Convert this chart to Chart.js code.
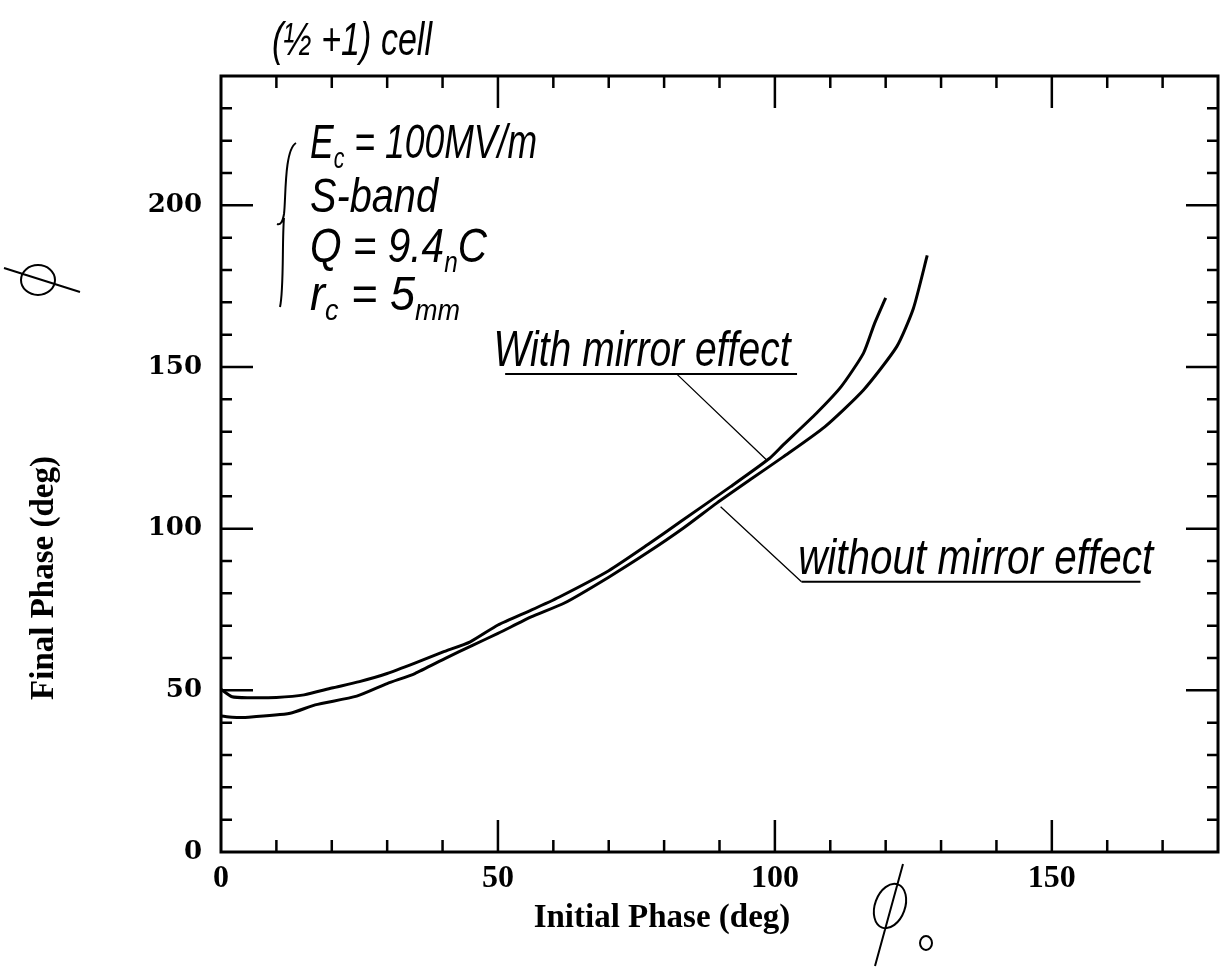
<!DOCTYPE html>
<html>
<head>
<meta charset="utf-8">
<script src="https://cdn.jsdelivr.net/npm/chart.js@4"></script>
<style>
  body { margin: 0; background: #fff; }
  #wrap { width: 1228px; height: 971px; }
</style>
</head>
<body>
<div id="wrap"><canvas id="phase"></canvas></div>
<script>
// values
const xTicks = [0, 50, 100, 150]
const yTicks = [0, 50, 100, 150, 200]

const withMirrorX = [0, 2, 5, 10, 15, 20, 25, 30, 35, 40, 45, 50, 56, 61, 70, 77, 83, 92, 99, 101.5, 107.5, 112, 116, 118, 120]
const withMirrorY = [50.3, 48, 47.7, 47.8, 48.6, 50.7, 52.7, 55.2, 58.4, 61.8, 65, 70.2, 74.8, 78.8, 87, 95, 102.2, 113, 121.7, 125.9, 135.7, 144, 154.3, 163.5, 171.4]

const withoutMirrorX = [0, 2, 5, 12.5, 17, 24.5, 30, 35, 40.5, 45.5, 50, 56, 62, 70, 77, 83.5, 89.5, 95.5, 101.5, 109, 116, 122, 125, 127.5]
const withoutMirrorY = [42.1, 41.7, 41.7, 42.9, 45.5, 48.2, 52.1, 55.2, 59.9, 64, 67.6, 72.7, 77, 85, 92.6, 100.2, 107.9, 115.1, 122.2, 131.5, 142.9, 156.3, 168.1, 184.5]

const pts = (xs, ys) => xs.map((x, i) => ({ x: x, y: ys[i] }))

const handFace = '"Liberation Sans", "DejaVu Sans", sans-serif'
const serif = '"Liberation Serif", "DejaVu Serif", serif'

// handwritten-looking text squeezed to a given width; parts are [text, isSub]
function hand(ctx, x, y, parts, size, width) {
    const fontOf = sub => 'italic ' + (sub ? size * 0.6 : size) + 'px ' + handFace
    let natural = 0
    parts.forEach(p => { ctx.font = fontOf(p[1]); natural += ctx.measureText(p[0]).width })
    ctx.save()
    ctx.translate(x, y)
    ctx.scale(width / natural, 1)
    let cx = 0
    parts.forEach(p => {
        ctx.font = fontOf(p[1])
        ctx.fillText(p[0], cx, p[1] ? size * 0.2 : 0)
        cx += ctx.measureText(p[0]).width
    })
    ctx.restore()
}

function phi(ctx, cx, cy, rx, ry, rot, x1, y1, x2, y2) {
    ctx.beginPath()
    ctx.ellipse(cx, cy, rx, ry, rot, 0, Math.PI * 2)
    ctx.moveTo(x1, y1)
    ctx.lineTo(x2, y2)
    ctx.stroke()
}

const decor = {
    id: 'decor',
    afterDraw(chart) {
        const ctx = chart.ctx
        const a = chart.chartArea
        const sx = chart.scales.x, sy = chart.scales.y
        const X = v => sx.getPixelForValue(v), Y = v => sy.getPixelForValue(v)
        ctx.save()
        ctx.strokeStyle = '#000'
        ctx.fillStyle = '#000'

        // frame
        ctx.lineWidth = 3
        ctx.strokeRect(a.left, a.top, a.right - a.left, a.bottom - a.top)

        // inward ticks on all four sides
        ctx.lineWidth = 2.5
        ctx.beginPath()
        for (let v = 10; v < 180; v += 10) {
            const len = v % 50 === 0 ? 32 : 12
            ctx.moveTo(X(v), a.bottom); ctx.lineTo(X(v), a.bottom - len)
            ctx.moveTo(X(v), a.top); ctx.lineTo(X(v), a.top + len)
        }
        for (let v = 10; v < 240; v += 10) {
            const len = v % 50 === 0 ? 32 : 11
            ctx.moveTo(a.left, Y(v)); ctx.lineTo(a.left + len, Y(v))
            ctx.moveTo(a.right, Y(v)); ctx.lineTo(a.right - len, Y(v))
        }
        ctx.stroke()

        // axis titles
        ctx.font = 'bold 33px ' + serif
        ctx.textAlign = 'center'
        ctx.textBaseline = 'middle'
        ctx.fillText('Initial Phase (deg)', 662, 918)
        ctx.save()
        ctx.translate(44, 578)
        ctx.rotate(-Math.PI / 2)
        ctx.fillText('Final Phase (deg)', 0, 0)
        ctx.restore()

        // handwritten notes
        ctx.textAlign = 'left'
        ctx.textBaseline = 'alphabetic'
        hand(ctx, 272, 55, [['(\u00bd +1) cell', 0]], 46, 160)

        hand(ctx, 310, 158, [['E', 0], ['c', 1], [' = 100MV/m', 0]], 48, 227)
        hand(ctx, 310, 212, [['S-band', 0]], 48, 128)
        hand(ctx, 310, 262, [['Q = 9.4', 0], ['n', 1], ['C', 0]], 48, 177)
        hand(ctx, 310, 310, [['r', 0], ['c', 1], [' = 5', 0], ['mm', 1]], 48, 150)

        // brace
        ctx.lineWidth = 2
        ctx.beginPath()
        ctx.moveTo(296, 143)
        ctx.bezierCurveTo(284, 150, 286, 200, 284, 214)
        ctx.quadraticCurveTo(282, 226, 277, 224)
        ctx.moveTo(284, 218)
        ctx.bezierCurveTo(282, 240, 284, 290, 280, 307)
        ctx.stroke()

        // phi symbols
        ctx.lineWidth = 2
        phi(ctx, 38, 280, 17, 15, 0, 4, 268, 80, 292)
        phi(ctx, 890, 906, 15, 23, 0.35, 875, 966, 903, 864)
        phi(ctx, 926, 943, 6, 7, 0, 0, 0, 0, 0)

        // labels with underline and leader, anchored in data units
        hand(ctx, X(49.2), Y(150.3), [['With mirror effect', 0]], 50, 297)
        hand(ctx, X(104.2), Y(86), [['without mirror effect', 0]], 50, 355)
        ctx.lineWidth = 2
        ctx.beginPath()
        ctx.moveTo(X(51.3), Y(147.8)); ctx.lineTo(X(104), Y(147.8))
        ctx.moveTo(X(104.8), Y(83.6)); ctx.lineTo(X(166), Y(83.6))
        ctx.stroke()
        ctx.lineWidth = 1.3
        ctx.beginPath()
        ctx.moveTo(X(82.3), Y(147.8)); ctx.lineTo(X(98.7), Y(120.9))
        ctx.moveTo(X(90.2), Y(106.8)); ctx.lineTo(X(104.8), Y(83.6))
        ctx.stroke()

        ctx.restore()
    }
}

new Chart(document.getElementById('phase'), {
    type: 'scatter',
    data: {
        datasets: [
            {
                label: 'With mirror effect',
                data: pts(withMirrorX, withMirrorY),
                showLine: true,
                borderColor: '#000',
                borderWidth: 3,
                pointRadius: 0,
                tension: 0.2
            },
            {
                label: 'without mirror effect',
                data: pts(withoutMirrorX, withoutMirrorY),
                showLine: true,
                borderColor: '#000',
                borderWidth: 3,
                pointRadius: 0,
                tension: 0.2
            }
        ]
    },
    options: {
        responsive: true,
        maintainAspectRatio: false,
        devicePixelRatio: 1,
        animation: false,
        layout: { padding: { top: 76, right: 10, left: 0, bottom: 0 } },
        plugins: { legend: { display: false }, tooltip: { enabled: false } },
        scales: {
            x: {
                type: 'linear',
                min: 0,
                max: 180,
                afterBuildTicks: s => { s.ticks = xTicks.map(v => ({ value: v })) },
                afterFit: s => { s.height = 119 },
                grid: { display: false, drawTicks: false },
                border: { display: false },
                ticks: { color: '#000', font: { family: serif, size: 32, weight: 'bold' }, padding: 8, maxRotation: 0, autoSkip: false }
            },
            y: {
                type: 'linear',
                min: 0,
                max: 240,
                afterBuildTicks: s => { s.ticks = yTicks.map(v => ({ value: v })) },
                afterFit: s => { s.width = 221 },
                grid: { display: false, drawTicks: false },
                border: { display: false },
                ticks: { color: '#000', font: { family: '"DejaVu Serif", serif', size: 26, weight: 'bold' }, padding: 19, autoSkip: false }
            }
        }
    },
    plugins: [decor]
})
</script>
</body>
</html>
